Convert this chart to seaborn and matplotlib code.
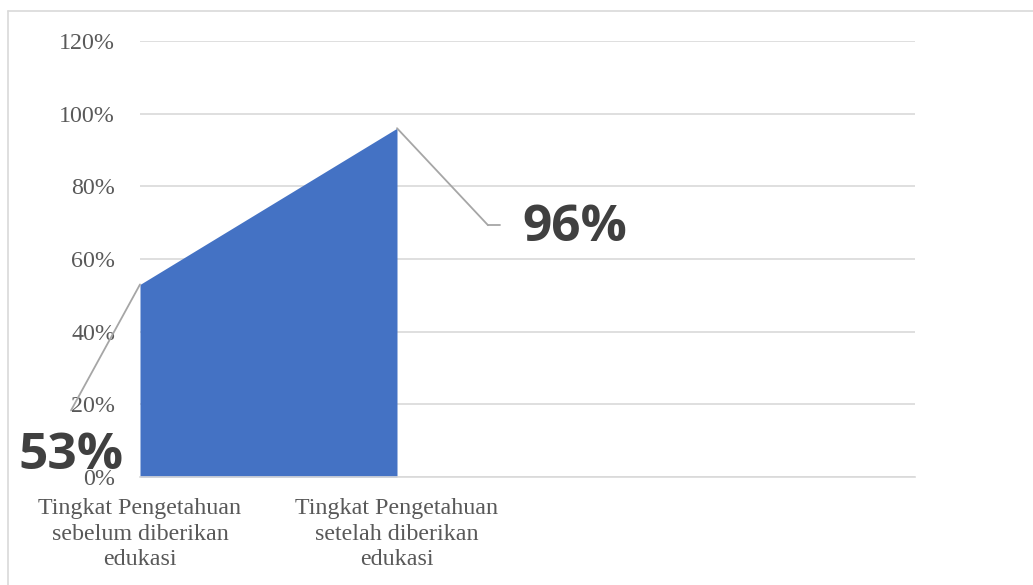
import numpy as np
import pandas as pd
import seaborn as sns
import matplotlib.pyplot as plt
from matplotlib.lines import Line2D

# data
categories = ["Tingkat Pengetahuan\nsebelum diberikan\nedukasi",
              "Tingkat Pengetahuan\nsetelah diberikan\nedukasi"]
values = [53, 96]
y_ticks = [0, 20, 40, 60, 80, 100, 120]

W, H = 1033, 585
BLUE = "#4472C4"
GRID = "#D9D9D9"
TXT = "#595959"
LBL = "#404040"
LEAD = "#A6A6A6"

sns.set_style("white")
plt.rcParams["font.family"] = ["Liberation Serif", "DejaVu Serif"]

df = pd.DataFrame({"pos": np.arange(len(values)), "value": values})

fig = plt.figure(figsize=(W / 100, H / 100), dpi=100)
ax = fig.add_axes([140 / W, 1 - 477 / H, 775 / W, 436 / H])

sns.lineplot(data=df, x="pos", y="value", color=BLUE, linewidth=0, ax=ax)
ax.fill_between(df["pos"], 0, df["value"], color=BLUE, linewidth=0, zorder=2)

ax.set_xlim(0, 775 / 257)
ax.set_ylim(0, 120)
ax.set_yticks(y_ticks)
ax.set_yticklabels([f"{t}%" for t in y_ticks])
ax.set_xticks(df["pos"])
ax.set_xticklabels(categories, linespacing=1.3)
ax.set_xlabel("")
ax.set_ylabel("")
ax.tick_params(axis="y", length=0, pad=18, labelsize=17.3, labelcolor=TXT)
ax.tick_params(axis="x", length=0, pad=15, labelsize=17.3, labelcolor=TXT)
for t in ax.get_xticklabels():
    t.set_ha("center")

ax.grid(axis="y", color=GRID, linewidth=1.2, zorder=0)
ax.set_axisbelow(True)
for s in ["left", "right", "top"]:
    ax.spines[s].set_visible(False)
ax.spines["bottom"].set_color(GRID)
ax.spines["bottom"].set_linewidth(1.2)

# data labels with leader lines
label_font = dict(family=["Open Sans", "DejaVu Sans"], fontsize=37,
                  fontweight="bold", color=LBL)
lead = dict(arrowstyle="-", color=LEAD, lw=1.3, shrinkA=0, shrinkB=0)

ax.annotate(f"{values[0]}%", xy=(0, values[0]), xytext=(-69, -172),
            textcoords="offset pixels", ha="center", va="center",
            annotation_clip=False, zorder=5, **label_font)
ax.annotate("", xy=(0, values[0]), xytext=(-69, -126),
            textcoords="offset pixels", annotation_clip=False, arrowprops=lead)

ax.annotate(f"{values[1]}%", xy=(1, values[1]), xytext=(178, -100),
            textcoords="offset pixels", ha="center", va="center",
            annotation_clip=False, zorder=5, **label_font)
ax.annotate("", xy=(1, values[1]), xytext=(91, -97),
            textcoords="offset pixels", annotation_clip=False, arrowprops=lead)
ax.plot([1 + 91 / 257, 1 + 103 / 257], [values[1] - 97 / 3.633] * 2,
        color=LEAD, lw=1.3, clip_on=False, zorder=5)

# outer frame (left and top edges visible in the reference)
fig.add_artist(Line2D([8 / W, 8 / W], [0, 1 - 11 / H], color=GRID, lw=1.2))
fig.add_artist(Line2D([8 / W, 1], [1 - 11 / H, 1 - 11 / H], color=GRID, lw=1.2))

fig.savefig("out.png", dpi=100)
